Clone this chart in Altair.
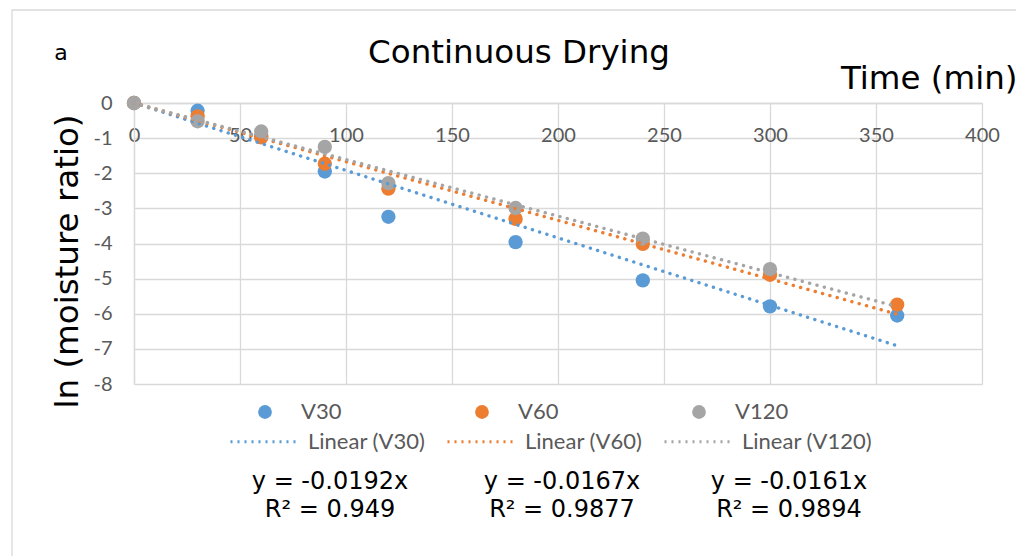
import altair as alt
import pandas as pd

# ---- data ----
time_min = [0, 30, 60, 90, 120, 180, 240, 300, 360]
v30 = [0, -0.22, -0.95, -1.95, -3.24, -3.96, -5.05, -5.79, -6.05]
v60 = [0, -0.38, -0.98, -1.73, -2.44, -3.30, -4.01, -4.89, -5.74]
v120 = [0, -0.52, -0.81, -1.25, -2.28, -2.99, -3.86, -4.73, None]
series_names = ["V30", "V60", "V120"]
trend_names = ["Linear (V30)", "Linear (V60)", "Linear (V120)"]
slopes = [-0.0192, -0.0167, -0.0161]
r_squared = ["0.949", "0.9877", "0.9894"]
colors = ["#5B9BD5", "#ED7D31", "#A5A5A5"]
x_ticks = [0, 50, 100, 150, 200, 250, 300, 350, 400]
y_ticks = [0, -1, -2, -3, -4, -5, -6, -7, -8]

# ---- tables built from the arrays ----
rows = []
for name, vals in zip(series_names, [v30, v60, v120]):
    for t, v in zip(time_min, vals):
        if v is not None:
            rows.append({"time": t, "value": v, "series": name})
points = pd.DataFrame(rows)

trend_rows = []
for tname, s in zip(trend_names, slopes):
    for t in [min(time_min), max(time_min)]:
        trend_rows.append({"time": t, "value": s * t, "trend": tname})
trend = pd.DataFrame(trend_rows)

# layout of equation labels (pixels, relative to plot area)
eq_x = [196, 428, 655]
eq_y = [379, 407]
eq_rows = []
for i, (s, r2) in enumerate(zip(slopes, r_squared)):
    eq_rows.append({"label": f"y = {s}x", "px": eq_x[i], "py": eq_y[0]})
    eq_rows.append({"label": f"R\u00b2 = {r2}", "px": eq_x[i], "py": eq_y[1]})
equations = pd.DataFrame(eq_rows)

GRID = "#D9D9D9"
TICKC = "#595959"
BIG = 32.5

x_axis = alt.Axis(
    orient="top", values=x_ticks, grid=True, gridColor=GRID, gridWidth=1.3,
    domainColor=GRID, domainWidth=1.3, ticks=False, tickSize=0,
    labelPadding=-32, labelBaseline="middle", labelFont="Lato",
    labelFontSize=20, labelColor=TICKC, labelFlush=False, labelOverlap=False,
    title="Time (min)", titleFont="DejaVu Sans", titleFontSize=BIG,
    titleFontWeight="normal", titleColor="black", titleX=883, titleY=-15,
    titleAlign="right", titleBaseline="alphabetic",
)
y_axis = alt.Axis(
    values=y_ticks, tickCount=9, grid=True, gridColor=GRID, gridWidth=1.3,
    domainColor=GRID, domainWidth=1.3, ticks=False, tickSize=0,
    labelPadding=22, labelFont="Lato", labelFontSize=20, labelColor=TICKC,
    labelExpr="'' + datum.value", labelOverlap=False,
    title="ln (moisture ratio)", titleFont="DejaVu Sans", titleFontSize=BIG,
    titleFontWeight="normal", titleColor="black", titleX=-67, titleY=158,
    titleAngle=270, titleAlign="center", titleBaseline="middle",
)
x_scale = alt.Scale(domain=[0, 400], nice=False)
y_scale = alt.Scale(domain=[-8, 0], nice=False)

pts = alt.Chart(points).mark_circle(size=205, opacity=1).encode(
    x=alt.X("time:Q", scale=x_scale, axis=x_axis),
    y=alt.Y("value:Q", scale=y_scale, axis=y_axis),
    fill=alt.Fill(
        "series:N",
        scale=alt.Scale(domain=series_names, range=colors),
        sort=series_names,
        legend=alt.Legend(
            title=None, orient="none", legendX=120, legendY=298,
            direction="horizontal", gridAlign="all", columnPadding=116,
            symbolType="circle", symbolSize=190, symbolStrokeWidth=0,
            labelFont="Lato", labelFontSize=22, labelColor=TICKC,
            labelOffset=25, padding=0,
        ),
    ),
)

lines = alt.Chart(trend).mark_line(
    strokeWidth=3.4, strokeDash=[0.1, 7.5], strokeCap="round"
).encode(
    x=alt.X("time:Q", scale=x_scale, axis=x_axis),
    y=alt.Y("value:Q", scale=y_scale, axis=y_axis),
    stroke=alt.Stroke(
        "trend:N",
        scale=alt.Scale(domain=trend_names, range=colors),
        sort=trend_names,
        legend=alt.Legend(
            title=None, orient="none", legendX=95, legendY=302,
            direction="horizontal", gridAlign="all", columnPadding=2,
            symbolType="stroke", symbolSize=4900, symbolDash=[2, 5],
            symbolStrokeWidth=3, labelFont="Lato", labelFontSize=22,
            labelColor=TICKC, labelOffset=6, padding=0,
        ),
    ),
)

eq_text = alt.Chart(equations).mark_text(
    font="DejaVu Sans", fontSize=24, color="black", align="center",
    baseline="middle",
).encode(
    x=alt.X("px:Q", scale=None, axis=None),
    y=alt.Y("py:Q", scale=None, axis=None),
    text="label:N",
)

one = pd.DataFrame({"k": [0]})
title_text = alt.Chart(one).mark_text(
    text="Continuous Drying", font="DejaVu Sans", fontSize=BIG, color="black",
    align="center", baseline="alphabetic",
).encode(x=alt.value(385), y=alt.value(-40))

a_text = alt.Chart(one).mark_text(
    text="a", font="DejaVu Sans", fontSize=22, color="black",
    align="center", baseline="alphabetic",
).encode(x=alt.value(-73), y=alt.value(-43))

border = alt.Chart(one).mark_rect(
    fill=None, stroke=GRID, strokeWidth=1.3
).encode(x=alt.value(-122), x2=alt.value(887), y=alt.value(-93), y2=alt.value(480))

chart = alt.layer(pts, lines, eq_text, title_text, a_text, border).resolve_scale(
    fill="independent", stroke="independent"
).properties(
    width=848, height=281,
    autosize=alt.AutoSizeParams(type="none"),
    padding={"left": 126, "top": 95, "right": 34, "bottom": 172},
    background="white",
).configure_view(stroke=None)

chart.save("out.html", embed_options={"renderer": "svg", "actions": False})
